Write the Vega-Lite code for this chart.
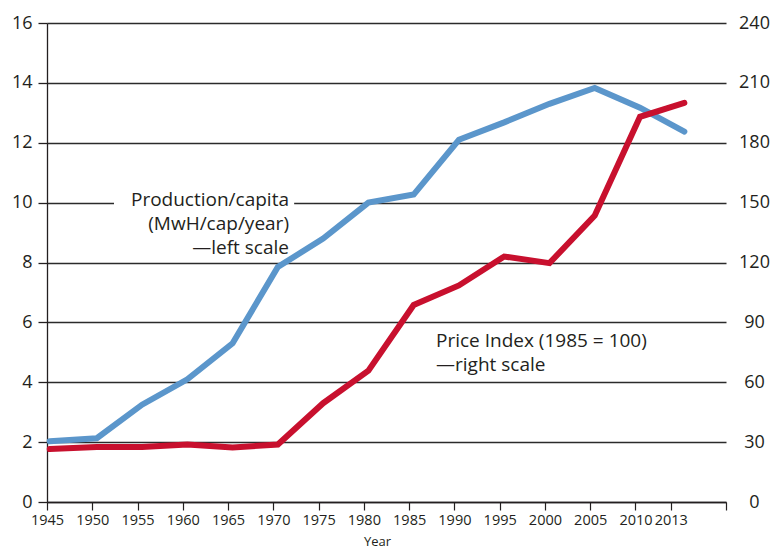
{
  "$schema": "https://vega.github.io/schema/vega-lite/v6.json",
  "autosize": {"type": "none"},
  "padding": {"left": 47, "top": 23, "right": 44, "bottom": 47},
  "width": 679,
  "height": 479,
  "background": "white",
  "config": {
    "view": {"stroke": null},
    "font": "Open Sans",
    "axis": {"labelColor": "#231f20", "titleColor": "#231f20", "labelFont": "Open Sans", "titleFont": "Open Sans"}
  },
  "datasets": {
    "production": [
      {"year": 1945.3, "value": 2.03},
      {"year": 1950.5, "value": 2.13},
      {"year": 1955.5, "value": 3.25},
      {"year": 1960.5, "value": 4.1},
      {"year": 1965.5, "value": 5.3},
      {"year": 1970.5, "value": 7.85},
      {"year": 1975.5, "value": 8.8},
      {"year": 1980.5, "value": 10.0},
      {"year": 1985.5, "value": 10.27},
      {"year": 1990.5, "value": 12.1},
      {"year": 1995.5, "value": 12.68},
      {"year": 2000.5, "value": 13.3},
      {"year": 2005.5, "value": 13.83},
      {"year": 2010.5, "value": 13.17},
      {"year": 2015.4, "value": 12.37}
    ],
    "price": [
      {"year": 1945.3, "index": 26.5},
      {"year": 1950.5, "index": 27.5},
      {"year": 1955.5, "index": 27.5},
      {"year": 1960.5, "index": 28.8},
      {"year": 1965.5, "index": 27.3},
      {"year": 1970.5, "index": 28.8},
      {"year": 1975.5, "index": 49.5},
      {"year": 1980.5, "index": 65.8},
      {"year": 1985.5, "index": 98.7},
      {"year": 1990.5, "index": 108.5},
      {"year": 1995.5, "index": 123},
      {"year": 2000.5, "index": 119.7},
      {"year": 2005.5, "index": 143.5},
      {"year": 2010.5, "index": 193},
      {"year": 2015.4, "index": 200}
    ],
    "leftlabels": [
      {"label": "Production/capita", "year": 1971.73, "value": 9.886},
      {"label": "(MwH/cap/year)", "year": 1971.73, "value": 9.085},
      {"label": "\u2014left scale", "year": 1971.73, "value": 8.283}
    ],
    "rightlabels": [
      {"label": "Price Index (1985 = 100)", "year": 1987.97, "value": 5.187},
      {"label": "\u2014right scale", "year": 1987.97, "value": 4.385}
    ],
    "labelbox": [
      {"x1": 1952.4, "x2": 1972.3, "y1": 9.55, "y2": 10.45}
    ]
  },
  "resolve": {"scale": {"y": "independent"}},
  "layer": [
    {
      "layer": [
        {
          "data": {"name": "production"},
          "mark": {"type": "line", "color": "#5b96cb", "strokeWidth": 6, "strokeCap": "round"},
          "encoding": {
            "x": {
              "field": "year", "type": "quantitative",
              "scale": {"domain": [1945, 2020], "nice": false, "zero": false},
              "axis": {
                "title": "Year", "titleFontSize": 13, "titleFontWeight": "normal",
                "titleX": 330, "titleY": 43, "titleBaseline": "alphabetic",
                "values": [1945, 1950, 1955, 1960, 1965, 1970, 1975, 1980, 1985, 1990, 1995, 2000, 2005, 2010, 2013.9, 2020],
                "labelExpr": "datum.value >= 2019 ? '' : (datum.value > 2013 ? '2013' : format(datum.value, 'd'))",
                "labelFontSize": 14.5, "labelPadding": 3, "labelFlush": false, "labelOverlap": false,
                "tickSize": 8, "tickColor": "#231f20", "tickWidth": 1.2,
                "domainColor": "#231f20", "domainWidth": 1.3, "grid": false
              }
            },
            "y": {
              "field": "value", "type": "quantitative",
              "scale": {"domain": [0, 16], "nice": false},
              "axis": {
                "title": null, "orient": "left",
                "values": [0, 2, 4, 6, 8, 10, 12, 14, 16],
                "labelFontSize": 18, "labelPadding": 6,
                "tickSize": 9, "tickColor": "#231f20", "tickWidth": 1.3,
                "domainColor": "#231f20", "domainWidth": 1.3,
                "grid": true, "gridColor": "#2b2b2b", "gridWidth": 1.3, "gridOpacity": 1
              }
            }
          }
        },
        {
          "data": {"name": "labelbox"},
          "mark": {"type": "rect", "fill": "white"},
          "encoding": {
            "x": {"field": "x1", "type": "quantitative"},
            "x2": {"field": "x2"},
            "y": {"field": "y1", "type": "quantitative", "title": null},
            "y2": {"field": "y2"}
          }
        },
        {
          "data": {"name": "leftlabels"},
          "mark": {"type": "text", "fontSize": 19, "font": "Open Sans", "color": "#231f20", "baseline": "alphabetic", "align": "right"},
          "encoding": {
            "x": {"field": "year", "type": "quantitative"},
            "y": {"field": "value", "type": "quantitative", "title": null},
            "text": {"field": "label"}
          }
        },
        {
          "data": {"name": "rightlabels"},
          "mark": {"type": "text", "fontSize": 19, "font": "Open Sans", "color": "#231f20", "baseline": "alphabetic", "align": "left"},
          "encoding": {
            "x": {"field": "year", "type": "quantitative"},
            "y": {"field": "value", "type": "quantitative", "title": null},
            "text": {"field": "label"}
          }
        }
      ]
    },
    {
      "data": {"name": "price"},
      "mark": {"type": "line", "color": "#c8102e", "strokeWidth": 6, "strokeCap": "round"},
      "encoding": {
        "x": {"field": "year", "type": "quantitative"},
        "y": {
          "field": "index", "type": "quantitative",
          "scale": {"domain": [0, 240], "nice": false},
          "axis": {
            "title": null, "orient": "right",
            "values": [0, 30, 60, 90, 120, 150, 180, 210, 240],
            "labelFontSize": 18, "labelPadding": 28, "labelAlign": "center",
            "ticks": false, "tickSize": 0, "domain": false, "grid": false
          }
        }
      }
    }
  ]
}
